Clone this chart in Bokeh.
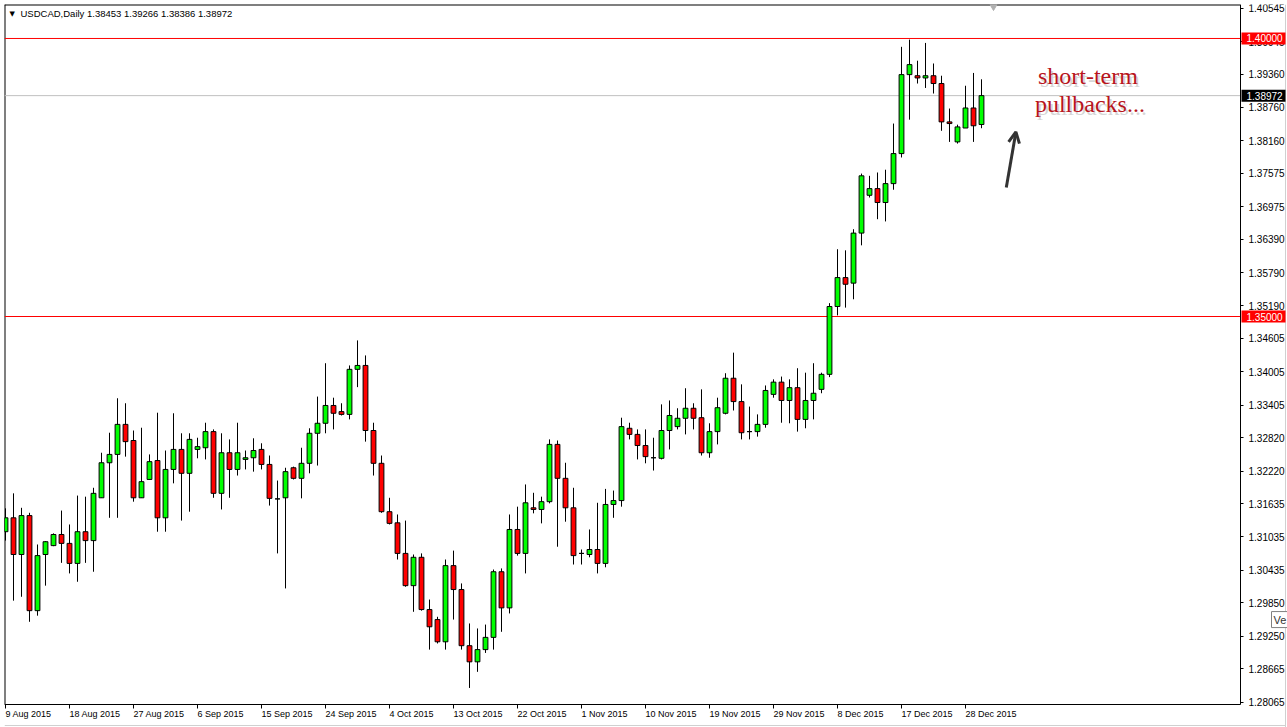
from bokeh.plotting import figure
from bokeh.models import (FixedTicker, Label, Arrow, OpenHead,
                          ColumnDataSource, Range1d, PrintfTickFormatter)
from bokeh.embed import file_html
from bokeh.resources import INLINE
from bokeh.core.properties import value

# ---------------- data ----------------
title_text = "USDCAD,Daily  1.38453 1.39266 1.38386 1.38972"

opens = [
    1.3113, 1.3138, 1.3072, 1.3142, 1.2971, 1.3072, 1.3088, 1.3108, 1.3092, 1.3056,
    1.3113, 1.3097, 1.3174, 1.3237, 1.3252, 1.3306, 1.3277, 1.3174, 1.3207, 1.3241,
    1.3138, 1.3225, 1.3261, 1.3218, 1.3261, 1.3264, 1.3293, 1.3182, 1.3255, 1.3225,
    1.3243, 1.3246, 1.3261, 1.3234, 1.3172, 1.3174, 1.3228, 1.3209, 1.3236, 1.3290,
    1.3308, 1.3340, 1.3329, 1.3324, 1.3405, 1.3412, 1.3295, 1.3236, 1.3149, 1.3129,
    1.3074, 1.3016, 1.3067, 1.2973, 1.2955, 1.2915, 1.3052, 1.3009, 1.2908, 1.2879,
    1.2901, 1.2923, 1.3041, 1.2976, 1.3117, 1.3074, 1.3156, 1.3153, 1.3167, 1.3270,
    1.3209, 1.3156, 1.3074, 1.3072, 1.3081, 1.3056, 1.3162, 1.3169, 1.3299, 1.3288,
    1.3268, 1.3246, 1.3245, 1.3295, 1.3302, 1.3317, 1.3335, 1.3318, 1.3255, 1.3293,
    1.3326, 1.3389, 1.3347, 1.3293, 1.3293, 1.3306, 1.3360, 1.3382, 1.3349, 1.3372,
    1.3315, 1.3349, 1.3369, 1.3396, 1.3518, 1.3570, 1.3560, 1.3650, 1.3718, 1.3730,
    1.3705, 1.3739, 1.3793, 1.3935, 1.3933, 1.3929, 1.3933, 1.3919, 1.3850, 1.3814,
    1.3839, 1.3875, 1.38453,
]
highs = [
    1.3155, 1.3182, 1.3156, 1.3147, 1.3090, 1.3096, 1.3110, 1.3151, 1.3126, 1.3178,
    1.3176, 1.3192, 1.3255, 1.3291, 1.3353, 1.3344, 1.3295, 1.3300, 1.3252, 1.3327,
    1.3259, 1.3326, 1.3290, 1.3290, 1.3282, 1.3309, 1.3297, 1.3290, 1.3279, 1.3309,
    1.3259, 1.3281, 1.3272, 1.3250, 1.3205, 1.3228, 1.3230, 1.3264, 1.3299, 1.3356,
    1.3416, 1.3354, 1.3344, 1.3412, 1.3457, 1.3430, 1.3309, 1.3250, 1.3174, 1.3144,
    1.3133, 1.3072, 1.3074, 1.2991, 1.2960, 1.3063, 1.3079, 1.3020, 1.2948, 1.2939,
    1.2946, 1.3045, 1.3047, 1.3144, 1.3158, 1.3198, 1.3183, 1.3176, 1.3279, 1.3277,
    1.3237, 1.3192, 1.3081, 1.3117, 1.3165, 1.3190, 1.3187, 1.3318, 1.3309, 1.3297,
    1.3297, 1.3282, 1.3342, 1.3349, 1.3335, 1.3371, 1.3344, 1.3369, 1.3308, 1.3354,
    1.3398, 1.3435, 1.3378, 1.3338, 1.3324, 1.3376, 1.3387, 1.3392, 1.3387, 1.3407,
    1.3399, 1.3416, 1.3399, 1.3524, 1.3621, 1.3619, 1.3657, 1.3757, 1.3753, 1.3759,
    1.3764, 1.3847, 1.3985, 1.3998, 1.3960, 1.3992, 1.3955, 1.3933, 1.3874, 1.3845,
    1.3915, 1.3938, 1.39266,
]
lows = [
    1.3097, 1.2989, 1.2996, 1.2951, 1.2962, 1.3016, 1.3087, 1.3057, 1.3038, 1.3023,
    1.3057, 1.3041, 1.3174, 1.3138, 1.3138, 1.3248, 1.3167, 1.3174, 1.3206, 1.3113,
    1.3113, 1.3200, 1.3133, 1.3149, 1.3245, 1.3243, 1.3174, 1.3153, 1.3174, 1.3214,
    1.3225, 1.3221, 1.3225, 1.3160, 1.3074, 1.3011, 1.3207, 1.3173, 1.3218, 1.3232,
    1.3290, 1.3297, 1.3322, 1.3315, 1.3373, 1.3275, 1.3214, 1.3147, 1.3126, 1.3063,
    1.3014, 1.2969, 1.2971, 1.2901, 1.2912, 1.2901, 1.2955, 1.2901, 1.2832, 1.2861,
    1.2895, 1.2901, 1.2933, 1.2966, 1.3070, 1.3038, 1.3146, 1.3128, 1.3164, 1.3086,
    1.3131, 1.3054, 1.3054, 1.3067, 1.3038, 1.3049, 1.3138, 1.3158, 1.3279, 1.3243,
    1.3236, 1.3223, 1.3243, 1.3261, 1.3297, 1.3288, 1.3297, 1.3250, 1.3246, 1.3270,
    1.3324, 1.3331, 1.3279, 1.3279, 1.3284, 1.3300, 1.3354, 1.3309, 1.3308, 1.3293,
    1.3299, 1.3315, 1.3362, 1.3391, 1.3502, 1.3516, 1.3531, 1.3628, 1.3714, 1.3675,
    1.3671, 1.3728, 1.3786, 1.3854, 1.3919, 1.3911, 1.3901, 1.3834, 1.3814, 1.3811,
    1.3839, 1.3814, 1.38386,
]
closes = [
    1.3138, 1.3072, 1.3142, 1.2971, 1.3070, 1.3095, 1.3108, 1.3092, 1.3056, 1.3113,
    1.3097, 1.3182, 1.3237, 1.3252, 1.3306, 1.3275, 1.3174, 1.3203, 1.3239, 1.3138,
    1.3225, 1.3261, 1.3218, 1.3279, 1.3266, 1.3293, 1.3182, 1.3255, 1.3225, 1.3255,
    1.3246, 1.3259, 1.3234, 1.3173, 1.3172, 1.3221, 1.3209, 1.3236, 1.3290, 1.3308,
    1.3340, 1.3326, 1.3324, 1.3405, 1.3412, 1.3295, 1.3236, 1.3149, 1.3128, 1.3074,
    1.3016, 1.3067, 1.2973, 1.2942, 1.2915, 1.3052, 1.3009, 1.2908, 1.2879, 1.2901,
    1.2923, 1.3041, 1.2976, 1.3117, 1.3074, 1.3165, 1.3153, 1.3167, 1.3270, 1.3209,
    1.3156, 1.3070, 1.3074, 1.3081, 1.3056, 1.3162, 1.3169, 1.3302, 1.3288, 1.3268,
    1.3248, 1.3246, 1.3295, 1.3322, 1.3317, 1.3335, 1.3317, 1.3255, 1.3293, 1.3336,
    1.3389, 1.3347, 1.3291, 1.3293, 1.3306, 1.3367, 1.3382, 1.3349, 1.3372, 1.3315,
    1.3349, 1.3362, 1.3396, 1.3518, 1.3570, 1.3558, 1.3650, 1.3753, 1.3730, 1.3705,
    1.3739, 1.3793, 1.3935, 1.3953, 1.3929, 1.3933, 1.3919, 1.3850, 1.3847, 1.3841,
    1.3875, 1.3843, 1.38972,
]

date_labels = ["9 Aug 2015", "18 Aug 2015", "27 Aug 2015", "6 Sep 2015",
               "15 Sep 2015", "24 Sep 2015", "4 Oct 2015", "13 Oct 2015",
               "22 Oct 2015", "1 Nov 2015", "10 Nov 2015", "19 Nov 2015",
               "29 Nov 2015", "8 Dec 2015", "17 Dec 2015", "28 Dec 2015"]
bars_per_label = 8

price_ticks = [1.28065, 1.28665, 1.29250, 1.29850, 1.30435, 1.31035, 1.31635,
               1.32220, 1.32820, 1.33405, 1.34005, 1.34605, 1.35190, 1.35790,
               1.36390, 1.36975, 1.37575, 1.38160, 1.38760, 1.39360, 1.39945,
               1.40545]
level_lines = [1.40000, 1.35000]
last_price = 1.38972
note_lines = ["short-term", "pullbacks..."]

# ---------------- geometry ----------------
X0, X_END = -0.125, 160.25        # frame spans the whole width right of the left border
X_AXIS = 154.375                  # where the price scale sits
X_EDGE = 160.0                    # window edge line
Y_BOT, Y1 = 1.27609, 1.40611
Y_AXIS = 1.28023                  # where the time scale sits
Y_EDGE = 1.27645                  # window edge line

FONT = "Liberation Sans"

n = len(opens)
xs = list(range(n))
tops = [max(o, c) for o, c in zip(opens, closes)]
bots = [min(o, c) for o, c in zip(opens, closes)]
cols = ["#ff0000" if c < o else "#00ff00" for o, c in zip(opens, closes)]
src = ColumnDataSource(dict(x=xs, h=highs, l=lows, top=tops, bottom=bots, color=cols))

p = figure(width=1287, height=727, output_backend="svg", toolbar_location=None,
           y_axis_location="right", x_range=Range1d(X0, X_END), y_range=Range1d(Y_BOT, Y1),
           min_border_left=4, min_border_top=4, min_border_right=0, min_border_bottom=0,
           background_fill_color="white", border_fill_color="white",
           outline_line_color=None)
p.grid.visible = False

# window edges (light grey)
p.line(x=[X_EDGE, X_EDGE], y=[Y_BOT, Y1], line_color="#d0d0d0", line_width=1)
p.line(x=[X0, X_EDGE], y=[Y_EDGE, Y_EDGE], line_color="#d0d0d0", line_width=1)

# chart box: left and top edges
p.line(x=[X0, X0], y=[Y_AXIS, Y1], line_color="black", line_width=2)
p.line(x=[X0, X_AXIS], y=[Y1, Y1], line_color="black", line_width=2)

# horizontal levels and bid line (stop at the price scale)
p.segment(x0=[X0] * len(level_lines), x1=[X_AXIS] * len(level_lines),
          y0=level_lines, y1=level_lines, line_color="#ff0000", line_width=1)
p.segment(x0=[X0], x1=[X_AXIS], y0=[last_price], y1=[last_price],
          line_color="#c0c0c0", line_width=1)

# candles
p.segment(x0="x", y0="h", x1="x", y1="l", source=src, line_color="black", line_width=1)
p.vbar(x="x", width=0.6, top="top", bottom="bottom", source=src,
       fill_color="color", line_color="black", line_width=1)

# price axis
ya = p.yaxis[0]
ya.fixed_location = X_AXIS
ya.bounds = (Y_AXIS, Y1)
ya.ticker = FixedTicker(ticks=price_ticks)
ya.formatter = PrintfTickFormatter(format="%.5f")
ya.major_tick_in = 0
ya.major_tick_out = 3
ya.minor_tick_in = 0
ya.minor_tick_out = 0
ya.major_label_standoff = 5
ya.major_label_text_font = FONT
ya.major_label_text_font_size = "10px"
ya.major_label_text_color = "black"
ya.axis_line_color = "black"
ya.major_tick_line_color = "black"

# time axis
xa = p.xaxis[0]
xa.fixed_location = Y_AXIS
xa.bounds = (X0, X_AXIS)
tick_pos = [i * bars_per_label for i in range(len(date_labels))]
xa.ticker = FixedTicker(ticks=tick_pos)
xa.major_label_overrides = {t: lab for t, lab in zip(tick_pos, date_labels)}
xa.major_label_orientation = -1e-6
xa.major_tick_in = 0
xa.major_tick_out = 4
xa.minor_tick_in = 0
xa.minor_tick_out = 0
xa.major_label_standoff = 6
xa.major_label_text_font = FONT
xa.major_label_text_font_size = "9px"
xa.major_label_text_color = "black"
xa.axis_line_color = "black"

# highlighted prices on the scale
box_y = level_lines + [last_price]
box_c = ["#ff0000"] * len(level_lines) + ["#000000"]
box_t = [f"{v:.5f}" for v in box_y]
p.rect(x=[X_AXIS + 23 / 8] * len(box_y), y=box_y, width=44 / 8, height=12,
       height_units="screen", fill_color=box_c, line_color=None, level="overlay")
p.text(x=[X_AXIS] * len(box_y), y=box_y, text=box_t, x_offset=6, text_baseline="middle",
       text_align="left", text_color="white", text_font=value(FONT),
       text_font_size="10px", level="overlay")

# title
p.add_layout(Label(x=X0, y=Y1, x_offset=5, y_offset=-9, text="\u25bc", text_font="DejaVu Sans",
                   text_font_size="7px", text_color="black", text_baseline="middle"))
p.add_layout(Label(x=X0, y=Y1, x_offset=16, y_offset=-9, text=title_text, text_font=FONT,
                   text_font_size="9.5px", text_color="black", text_baseline="middle"))

# chart-shift marker at the top
p.scatter(x=[123.5], y=[1.40575], marker="inverted_triangle", size=7,
          fill_color="#b0b0b0", line_color="#b0b0b0")

# note text with soft shadow
for i, (line, yy) in enumerate(zip(note_lines, [1.3932, 1.3883])):
    xx = 135.3 + 0.25 * i
    p.add_layout(Label(x=xx, y=yy, x_offset=2, y_offset=-3, text=line, text_align="center",
                       text_baseline="middle", text_font="Liberation Serif",
                       text_font_size="24px", text_color="#888888", text_alpha=0.35))
    p.add_layout(Label(x=xx, y=yy, text=line, text_align="center", text_baseline="middle",
                       text_font="Liberation Serif", text_font_size="24px",
                       text_color="#b8141c"))

# arrow
p.add_layout(Arrow(end=OpenHead(size=11, line_color="#333333", line_width=3),
                   x_start=125.1, y_start=1.3732, x_end=126.3, y_end=1.3832,
                   line_color="#333333", line_width=3))

# tooltip at the right edge
p.add_layout(Label(x=158.25, y=1.2955, text="Ve", text_font=FONT, text_font_size="11px",
                   text_color="#333333", text_baseline="middle",
                   background_fill_color="white", border_line_color="#808080", padding=2))

open("out.html", "w").write(file_html(p, INLINE))
